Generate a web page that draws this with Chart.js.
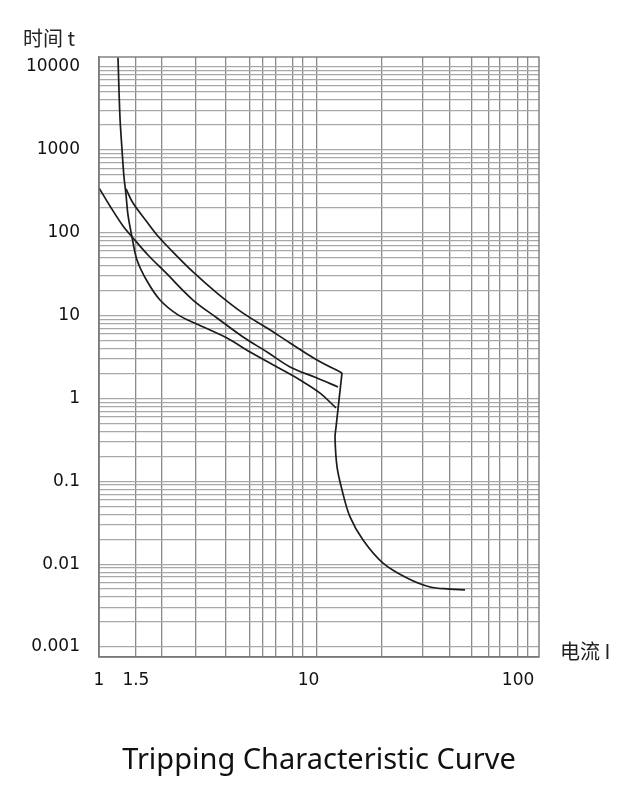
<!DOCTYPE html>
<html>
<head>
<meta charset="utf-8">
<title>Tripping Characteristic Curve</title>
<script src="https://cdn.jsdelivr.net/npm/chart.js@4.4.1/dist/chart.umd.min.js"></script>
<style>
  html, body { margin: 0; padding: 0; background: #fff; }
  canvas { display: block; }
</style>
</head>
<body>
<canvas id="curva_disparo" width="640" height="800"></canvas>
<script>
// corriente I (multiplos de In) y tiempo t (s)
const steepI = [1.232, 1.259, 1.288, 1.316, 1.346, 1.375, 1.437, 1.518, 1.695, 1.955, 2.383, 3.0, 4.08, 5.26, 7.07, 9.11, 11.35, 13.53];
const steepT = [13000, 2490, 1000, 470, 285, 164, 88.8, 46.9, 26.1, 15.4, 10.2, 7.7, 5.36, 3.63, 2.4, 1.67, 1.16, 0.767];

const middleI = [1.0, 1.128, 1.302, 1.453, 1.713, 2.088, 2.81, 3.659, 4.87, 6.34, 8.16, 10.98, 13.83];
const middleT = [346.5, 210, 120.5, 86.4, 53.8, 32.7, 15.4, 9.35, 5.51, 3.63, 2.4, 1.765, 1.374];

const upperI = [1.346, 1.453, 1.695, 1.891, 2.182, 2.81, 3.659, 4.87, 6.34, 8.16, 10.98, 14.45];
const upperT = [337, 228, 134.7, 93.9, 63.6, 33.6, 18.7, 10.7, 7.08, 4.67, 2.91, 2.03];

const magneticI = [14.45, 13.98, 13.53, 13.38, 13.68, 14.45, 15.78, 18.2, 22.68, 29.53, 38.02, 47.36, 55.85];
const magneticT = [2.03, 0.958, 0.45, 0.34, 0.149, 0.0785, 0.0371, 0.0196, 0.0103, 0.0068, 0.0053, 0.005, 0.0049];

// lineas de la reticula y etiquetas
const xGridValues = [1, 1.5, 2, 2.9, 4.04, 5.26, 6.06, 7, 8.44, 9.41, 10.98, 22.4, 35.2, 47.4, 60.3, 72.7, 82, 100, 111.6];
const xLabelValues = [1, 1.5, 10, 100];
const xLabels = ["1", "1.5", "10", "100"];

const yMantissas = [1, 2, 3, 4, 5, 6, 7, 8, 9];
const yDecades = [0.001, 0.01, 0.1, 1, 10, 100, 1000];
const yLabelValues = [10000, 1000, 100, 10, 1, 0.1, 0.01, 0.001];
const yLabels = ["10000", "1000", "100", "10", "1", "0.1", "0.01", "0.001"];

const toPoints = (xs, ys) => xs.map((x, i) => ({ x: x, y: ys[i] }));
const sameValue = (a, b) => Math.abs(Math.log10(a) - Math.log10(b)) < 1e-6;

let yGridValues = [];
yDecades.forEach((d) => {
  yMantissas.forEach((m) => yGridValues.push(m * d));
});
yGridValues.push(10000);

let xTickValues = xGridValues.slice();
xLabelValues.forEach((v) => {
  if (!xTickValues.some((g) => sameValue(g, v))) xTickValues.push(v);
});
xTickValues.sort((a, b) => a - b);

const labelFor = (values, labels) => (value) => {
  const i = values.findIndex((v) => sameValue(v, value));
  return i >= 0 ? labels[i] : "";
};

const gridX = "#8a8a8a";
const gridY = "#a8a8a8";
const curveColor = "#1c1c1c";

const plugin_marco = {
  id: "marco",
  afterDatasetsDraw: (chart) => {
    const a = chart.chartArea;
    const c = chart.ctx;
    c.save();
    c.strokeStyle = "#7a7a7a";
    c.lineWidth = 1.4;
    c.strokeRect(a.left, a.top, a.right - a.left, a.bottom - a.top);
    c.restore();
  },
};

const plugin_titulos_ejes = {
  id: "titulosEjes",
  afterDraw: (chart) => {
    const a = chart.chartArea;
    const c = chart.ctx;
    c.save();
    c.fillStyle = "#222";
    c.textBaseline = "middle";
    c.textAlign = "left";
    c.font = '20px "Noto Sans CJK SC"';
    c.fillText("时间 t", 23, a.top - 19);
    c.fillText("电流 I", a.right + 21, a.bottom - 6);
    c.restore();
  },
};

const line = (pts) => ({
  data: pts,
  borderColor: curveColor,
  borderWidth: 1.7,
  pointRadius: 0,
  tension: 0.35,
  fill: false,
});

const ctx = document.getElementById("curva_disparo").getContext("2d");
const chart_disparo = new Chart(ctx, {
  type: "line",
  data: {
    datasets: [
      line(toPoints(steepI, steepT)),
      line(toPoints(middleI, middleT)),
      line(toPoints(upperI, upperT)),
      line(toPoints(magneticI, magneticT)),
    ],
  },
  options: {
    responsive: false,
    animation: false,
    layout: { padding: { top: 57, right: 101, bottom: 22, left: 0 } },
    plugins: {
      legend: { display: false },
      tooltip: { enabled: false },
      title: {
        display: true,
        text: "Tripping Characteristic Curve",
        position: "bottom",
        fullSize: false,
        color: "#111",
        font: { family: "'Noto Sans'", size: 29, weight: "normal" },
        padding: 0,
      },
    },
    scales: {
      x: {
        type: "logarithmic",
        min: 1,
        max: 125.9,
        afterBuildTicks: (scale) => {
          scale.ticks = xTickValues.map((v) => ({ value: v }));
        },
        afterFit: (scale) => {
          scale.height = 86.2;
        },
        grid: {
          drawTicks: false,
          lineWidth: 1.3,
          color: (c) =>
            xGridValues.some((g) => sameValue(g, c.tick.value)) ? gridX : "rgba(0,0,0,0)",
        },
        border: { color: "#7a7a7a", width: 1.4 },
        ticks: {
          autoSkip: false,
          maxRotation: 0,
          padding: 13,
          color: "#111",
          font: { family: "'DejaVu Sans'", size: 17 },
          callback: labelFor(xLabelValues, xLabels),
        },
      },
      y: {
        type: "logarithmic",
        min: 0.000757,
        max: 13200,
        afterBuildTicks: (scale) => {
          scale.ticks = yGridValues.map((v) => ({ value: v }));
        },
        afterFit: (scale) => {
          scale.width = 99;
        },
        grid: { drawTicks: false, lineWidth: 1.2, color: gridY },
        border: { color: "#7a7a7a", width: 1.4 },
        ticks: {
          autoSkip: false,
          padding: 19,
          color: "#111",
          font: { family: "'DejaVu Sans'", size: 17 },
          callback: labelFor(yLabelValues, yLabels),
        },
      },
    },
  },
  plugins: [plugin_marco, plugin_titulos_ejes],
});
</script>
</body>
</html>
